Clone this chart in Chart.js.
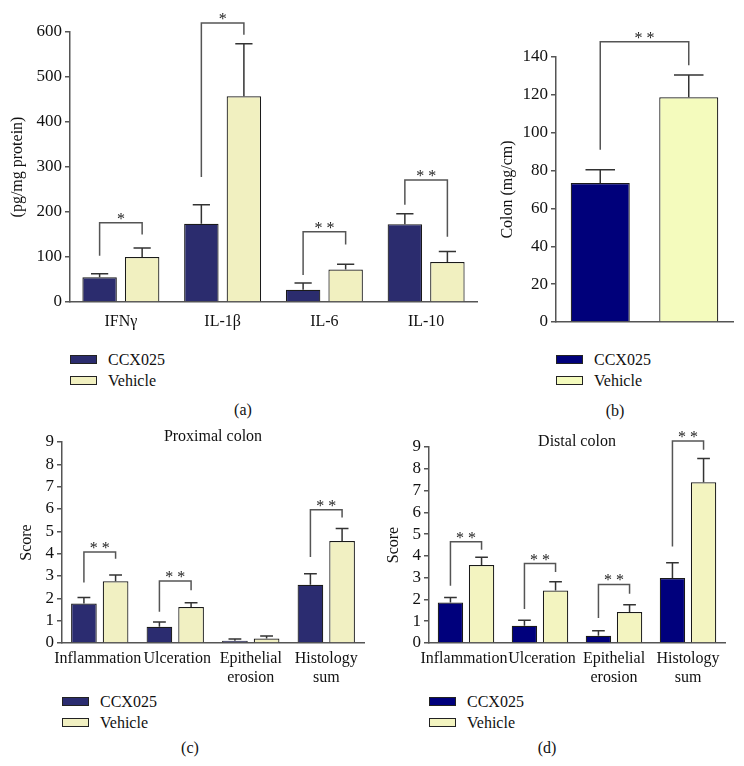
<!DOCTYPE html>
<html lang="en">
<head>
<meta charset="UTF-8">
<title>CCX025 vs Vehicle</title>
<script src="https://cdn.jsdelivr.net/npm/chart.js"></script>
<style>
    body {
        margin: 0;
        background: #fff;
        font-family: 'Liberation Serif', 'Times New Roman', serif;
        color: #111;
    }
    #page {
        position: relative;
        width: 744px;
        height: 766px;
        overflow: hidden;
    }
    canvas {
        position: absolute;
    }
    .legend {
        position: absolute;
        font-size: 16px;
    }
    .legend-row {
        display: flex;
        align-items: center;
        height: 21px;
    }
    .swatch {
        width: 25px;
        height: 7px;
        border: 1px solid #222;
        margin-right: 11px;
    }
    .panel-label {
        position: absolute;
        font-size: 16px;
        transform: translate(-50%, -50%);
    }
</style>
</head>
<body>
<div id="page">
    <canvas id="chart-a" width="480" height="340" style="left:0;top:0"></canvas>
    <canvas id="chart-b" width="264" height="340" style="left:480px;top:0"></canvas>
    <canvas id="chart-c" width="372" height="270" style="left:0;top:420px"></canvas>
    <canvas id="chart-d" width="372" height="270" style="left:372px;top:420px"></canvas>

    <div class="legend" id="legend-a" style="left:70px;top:349px"></div>
    <div class="legend" id="legend-b" style="left:556px;top:349px"></div>
    <div class="legend" id="legend-c" style="left:62px;top:691px"></div>
    <div class="legend" id="legend-d" style="left:429px;top:691px"></div>

    <div class="panel-label" style="left:243px;top:410px">(a)</div>
    <div class="panel-label" style="left:615px;top:411px">(b)</div>
    <div class="panel-label" style="left:190px;top:748px">(c)</div>
    <div class="panel-label" style="left:547px;top:748px">(d)</div>
</div>

<script>
    // series
    const seriesNames = ['CCX025', 'Vehicle'];

    // (a) cytokines, pg/mg protein
    const cytoLabels = ['IFNγ', 'IL-1β', 'IL-6', 'IL-10'];
    const cytoCcx = [55, 174, 27, 173];
    const cytoCcxErr = [8, 42, 15, 23];
    const cytoVeh = [100, 457, 72, 89];
    const cytoVehErr = [20, 117, 12, 23];
    // [left cat, right cat, bracket top, left leg end, right leg end, mark]
    const cytoBrackets = [
        [0, 0, 176, 103, 150, '*'],
        [1, 1, 620, 278, 594, '*'],
        [2, 2, 156, 60, 128, '* *'],
        [3, 3, 271, 216, 145, '* *']
    ];
    const cytoTicks = [0, 100, 200, 300, 400, 500, 600];

    // (b) colon weight, mg/cm
    const colonLabels = ['CCX025', 'Vehicle'];
    const colonCcx = [73.4, null];
    const colonCcxErr = [7, null];
    const colonVeh = [null, 118.7];
    const colonVehErr = [null, 11.8];
    const colonBrackets = [
        [0, 1, 148, 91, 135.6, '* *']
    ];
    const colonTicks = [0, 20, 40, 60, 80, 100, 120, 140];

    // (c) proximal colon scores
    const scoreLabels = [['Inflammation '], [' Ulceration'], ['Epithelial', 'erosion'], ['Histology', 'sum']];
    const proxCcx = [1.77, 0.73, 0.10, 2.61];
    const proxCcxErr = [0.27, 0.21, 0.08, 0.49];
    const proxVeh = [2.76, 1.61, 0.20, 4.57];
    const proxVehErr = [0.28, 0.19, 0.11, 0.56];
    const proxBrackets = [
        [0, 0, 4.07, 2.71, 3.77, '* *'],
        [1, 1, 2.78, 1.40, 2.36, '* *'],
        [3, 3, 5.97, 3.85, 5.62, '* *']
    ];

    // (d) distal colon scores
    const distCcx = [1.86, 0.79, 0.33, 2.98];
    const distCcxErr = [0.23, 0.25, 0.23, 0.70];
    const distVeh = [3.58, 2.41, 1.42, 7.38];
    const distVehErr = [0.36, 0.40, 0.34, 1.09];
    const distBrackets = [
        [0, 0, 4.65, 2.63, 4.28, '* *'],
        [1, 1, 3.65, 1.56, 3.26, '* *'],
        [2, 2, 2.69, 1.15, 2.26, '* *'],
        [3, 3, 9.27, 4.43, 8.87, '* *']
    ];
    const scoreTicks = [0, 1, 2, 3, 4, 5, 6, 7, 8, 9];

    const FONT = "'Liberation Serif', 'Times New Roman', serif";
    const AXIS = '#555';

    // error bars, significance brackets and inner title
    const sigPlugin = {
        id: 'sig',
        afterDatasetsDraw(chart, args, opts) {
            const ctx = chart.ctx;
            const y = chart.scales.y;
            ctx.save();

            ctx.strokeStyle = '#333';
            ctx.lineWidth = 1.5;
            (opts.errors || []).forEach((errs, di) => {
                const meta = chart.getDatasetMeta(di);
                meta.data.forEach((bar, i) => {
                    const v = chart.data.datasets[di].data[i];
                    if (v == null || errs[i] == null) return;
                    const top = y.getPixelForValue(v + errs[i]);
                    const half = bar.width / 4;
                    ctx.beginPath();
                    ctx.moveTo(bar.x, bar.y);
                    ctx.lineTo(bar.x, top);
                    ctx.moveTo(bar.x - half, top);
                    ctx.lineTo(bar.x + half, top);
                    ctx.stroke();
                });
            });

            ctx.strokeStyle = AXIS;
            ctx.fillStyle = '#222';
            ctx.font = '16px ' + FONT;
            ctx.textAlign = 'center';
            ctx.textBaseline = 'alphabetic';
            (opts.brackets || []).forEach(b => {
                const xl = chart.getDatasetMeta(0).data[b[0]].x;
                const xr = chart.getDatasetMeta(1).data[b[1]].x;
                const yt = y.getPixelForValue(b[2]);
                ctx.beginPath();
                ctx.moveTo(xl, y.getPixelForValue(b[3]));
                ctx.lineTo(xl, yt);
                ctx.lineTo(xr, yt);
                ctx.lineTo(xr, y.getPixelForValue(b[4]));
                ctx.stroke();
                ctx.fillText(b[5], (xl + xr) / 2, yt + 1);
            });

            if (opts.title) {
                const area = chart.chartArea;
                ctx.fillStyle = '#111';
                ctx.textBaseline = 'middle';
                ctx.fillText(opts.title, (area.left + area.right) / 2, y.getPixelForValue(9) - 5);
            }
            ctx.restore();
        }
    };

    function makeChart(id, cfg) {
        const ctx = document.getElementById(id).getContext('2d');
        return new Chart(ctx, {
            type: 'bar',
            data: {
                labels: cfg.labels,
                datasets: [{
                    label: seriesNames[0],
                    data: cfg.ccx,
                    backgroundColor: cfg.colors[0],
                    borderColor: '#1a1a1a',
                    borderWidth: 1.2,
                    categoryPercentage: cfg.catPct,
                    barPercentage: cfg.barPct
                }, {
                    label: seriesNames[1],
                    data: cfg.veh,
                    backgroundColor: cfg.colors[1],
                    borderColor: '#1a1a1a',
                    borderWidth: 1.2,
                    categoryPercentage: cfg.catPct,
                    barPercentage: cfg.barPct
                }]
            },
            options: {
                responsive: false,
                animation: false,
                devicePixelRatio: 1,
                skipNull: !!cfg.skipNull,
                layout: { padding: cfg.padding },
                plugins: {
                    legend: { display: false },
                    tooltip: { enabled: false },
                    sig: {
                        errors: [cfg.ccxErr, cfg.vehErr],
                        brackets: cfg.brackets,
                        title: cfg.title
                    }
                },
                scales: {
                    x: {
                        afterFit: s => { s.height = cfg.xHeight; },
                        grid: { display: false, drawTicks: false },
                        border: { display: true, color: AXIS, width: 1.5 },
                        ticks: {
                            display: cfg.xTicks !== false,
                            color: '#111',
                            padding: cfg.xPad,
                            maxRotation: 0,
                            autoSkip: false,
                            font: { family: FONT, size: cfg.xFont, lineHeight: 1.2 }
                        }
                    },
                    y: {
                        min: cfg.ticks[0],
                        max: cfg.ticks[cfg.ticks.length - 1],
                        afterFit: s => { s.width = cfg.yWidth; },
                        afterBuildTicks: s => { s.ticks = cfg.ticks.map(v => ({ value: v })); },
                        grid: {
                            drawOnChartArea: false,
                            drawTicks: true,
                            tickLength: 5,
                            color: AXIS,
                            lineWidth: 1.5
                        },
                        border: { display: true, color: AXIS, width: 1.5 },
                        ticks: {
                            color: '#111',
                            padding: 3,
                            autoSkip: false,
                            font: { family: FONT, size: cfg.yFont }
                        },
                        title: {
                            display: true,
                            text: cfg.yTitle,
                            color: '#111',
                            padding: { top: cfg.titlePad, bottom: 0 },
                            font: { family: FONT, size: 16 }
                        }
                    }
                }
            },
            plugins: [sigPlugin]
        });
    }

    makeChart('chart-a', {
        labels: cytoLabels, ccx: cytoCcx, ccxErr: cytoCcxErr, veh: cytoVeh, vehErr: cytoVehErr,
        brackets: cytoBrackets, ticks: cytoTicks, yTitle: '(pg/mg protein)',
        colors: ['#2b2c6e', '#f1f0c0'],
        catPct: 0.836, barPct: 0.81,
        padding: { top: 32, right: 3, bottom: 0, left: 0 },
        yWidth: 70, xHeight: 38, xPad: 10, xFont: 16, yFont: 17, titlePad: 8
    });

    makeChart('chart-b', {
        labels: colonLabels, ccx: colonCcx, ccxErr: colonCcxErr, veh: colonVeh, vehErr: colonVehErr,
        brackets: colonBrackets, ticks: colonTicks, yTitle: 'Colon (mg/cm)',
        colors: ['#00007a', '#f4fbbd'],
        catPct: 1, barPct: 0.667, skipNull: true, xTicks: false,
        padding: { top: 57, right: 11, bottom: 0, left: 0 },
        yWidth: 76, xHeight: 18, xPad: 4, xFont: 16, yFont: 17, titlePad: 18
    });

    makeChart('chart-c', {
        labels: scoreLabels, ccx: proxCcx, ccxErr: proxCcxErr, veh: proxVeh, vehErr: proxVehErr,
        brackets: proxBrackets, ticks: scoreTicks, yTitle: 'Score', title: 'Proximal colon',
        colors: ['#2b2c70', '#f1f0c2'],
        catPct: 0.839, barPct: 0.81,
        padding: { top: 22, right: 8, bottom: 0, left: 0 },
        yWidth: 62, xHeight: 47, xPad: 6, xFont: 16, yFont: 17, titlePad: 17
    });

    makeChart('chart-d', {
        labels: scoreLabels, ccx: distCcx, ccxErr: distCcxErr, veh: distVeh, vehErr: distVehErr,
        brackets: distBrackets, ticks: scoreTicks, yTitle: 'Score', title: 'Distal colon',
        colors: ['#00007c', '#f3f4c0'],
        catPct: 0.841, barPct: 0.815,
        padding: { top: 27, right: 19, bottom: 0, left: 0 },
        yWidth: 57, xHeight: 47, xPad: 6, xFont: 16, yFont: 17, titlePad: 12
    });

    // HTML legends
    function makeLegend(id, colors) {
        const box = document.getElementById(id);
        seriesNames.forEach((name, i) => {
            const row = document.createElement('div');
            row.className = 'legend-row';
            const sw = document.createElement('span');
            sw.className = 'swatch';
            sw.style.background = colors[i];
            const tx = document.createElement('span');
            tx.textContent = name;
            row.appendChild(sw);
            row.appendChild(tx);
            box.appendChild(row);
        });
    }
    makeLegend('legend-a', ['#2b2c6e', '#f1f0c0']);
    makeLegend('legend-b', ['#00007a', '#f4fbbd']);
    makeLegend('legend-c', ['#2b2c70', '#f1f0c2']);
    makeLegend('legend-d', ['#00007c', '#f3f4c0']);
</script>
</body>
</html>
